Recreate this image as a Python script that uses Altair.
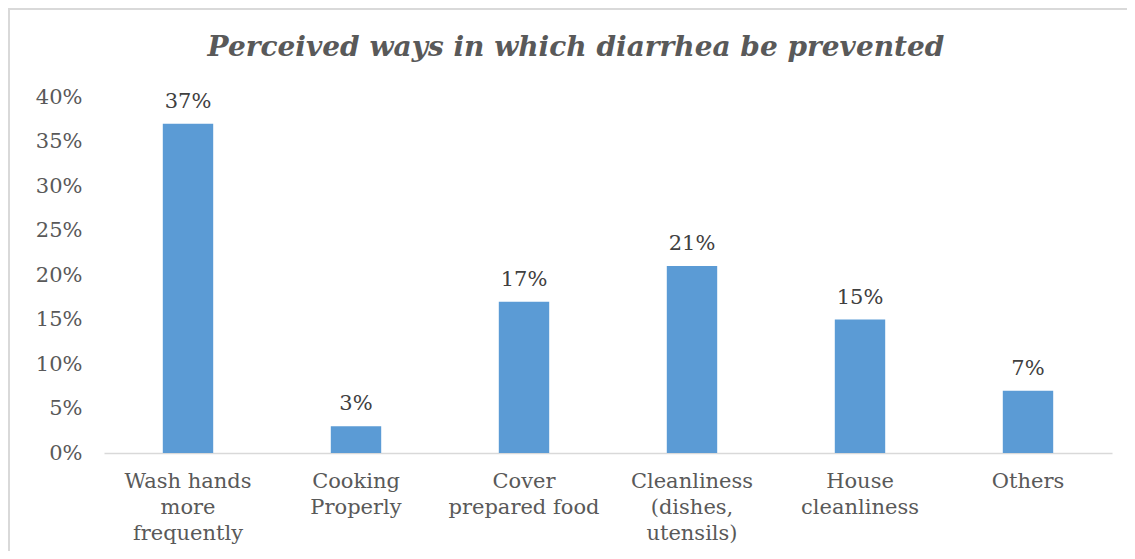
import altair as alt
import pandas as pd

title_text = ["Perceived ways in which diarrhea be prevented"]
categories = ["Wash hands|more|frequently", "Cooking|Properly", "Cover|prepared food",
              "Cleanliness|(dishes,|utensils)", "House|cleanliness", "Others"]
values = [0.37, 0.03, 0.17, 0.21, 0.15, 0.07]
labels = ["37%", "3%", "17%", "21%", "15%", "7%"]

df = pd.DataFrame({"cat": categories, "val": values, "lab": labels})

FONT = "DejaVu Serif"
GREY = "#595959"

x = alt.X("cat:N", sort=None, title=None,
          scale=alt.Scale(paddingInner=0.7, paddingOuter=0.35),
          axis=alt.Axis(labelAngle=0, labelExpr="split(datum.label, '|')",
                        labelLineHeight=26, labelPadding=17, labelFontSize=21,
                        labelFont=FONT, labelColor=GREY, ticks=False,
                        domainColor="#D9D9D9", domainWidth=1.5, labelLimit=300))
y = alt.Y("val:Q", title=None,
          scale=alt.Scale(domain=[0, 0.4]),
          axis=alt.Axis(format="%", values=[0, .05, .1, .15, .2, .25, .3, .35, .4],
                        labelFont=FONT, labelFontSize=21, labelColor=GREY,
                        domain=False, ticks=False, grid=False, labelPadding=22))

bars = alt.Chart(df).mark_bar(color="#5B9BD5").encode(x=x, y=y)
text = alt.Chart(df).mark_text(font=FONT, fontSize=21, color="#404040",
                               baseline="alphabetic", dy=-16).encode(
    x=alt.X("cat:N", sort=None), y="val:Q", text="lab:N")

one = pd.DataFrame({"t": title_text})
frame = alt.Chart(one).mark_rect(
    filled=False, stroke="#D9D9D9", strokeWidth=2).encode(
    x=alt.value(-95), x2=alt.value(1200), y=alt.value(-88), y2=alt.value(700))
title = alt.Chart(one).mark_text(
    font=FONT, fontSize=28, fontStyle="italic", fontWeight="bold",
    color=GREY, align="center", baseline="alphabetic").encode(
    x=alt.value(472), y=alt.value(-41), text="t:N")

chart = alt.layer(frame, bars, text, title).properties(
    width=1008, height=356,
    autosize=alt.AutoSizeParams(type="none"),
    padding={"left": 96, "top": 89, "right": 15, "bottom": 98},
).configure_view(stroke=None)

chart.save("out.html", embed_options={"renderer": "svg", "actions": False})
